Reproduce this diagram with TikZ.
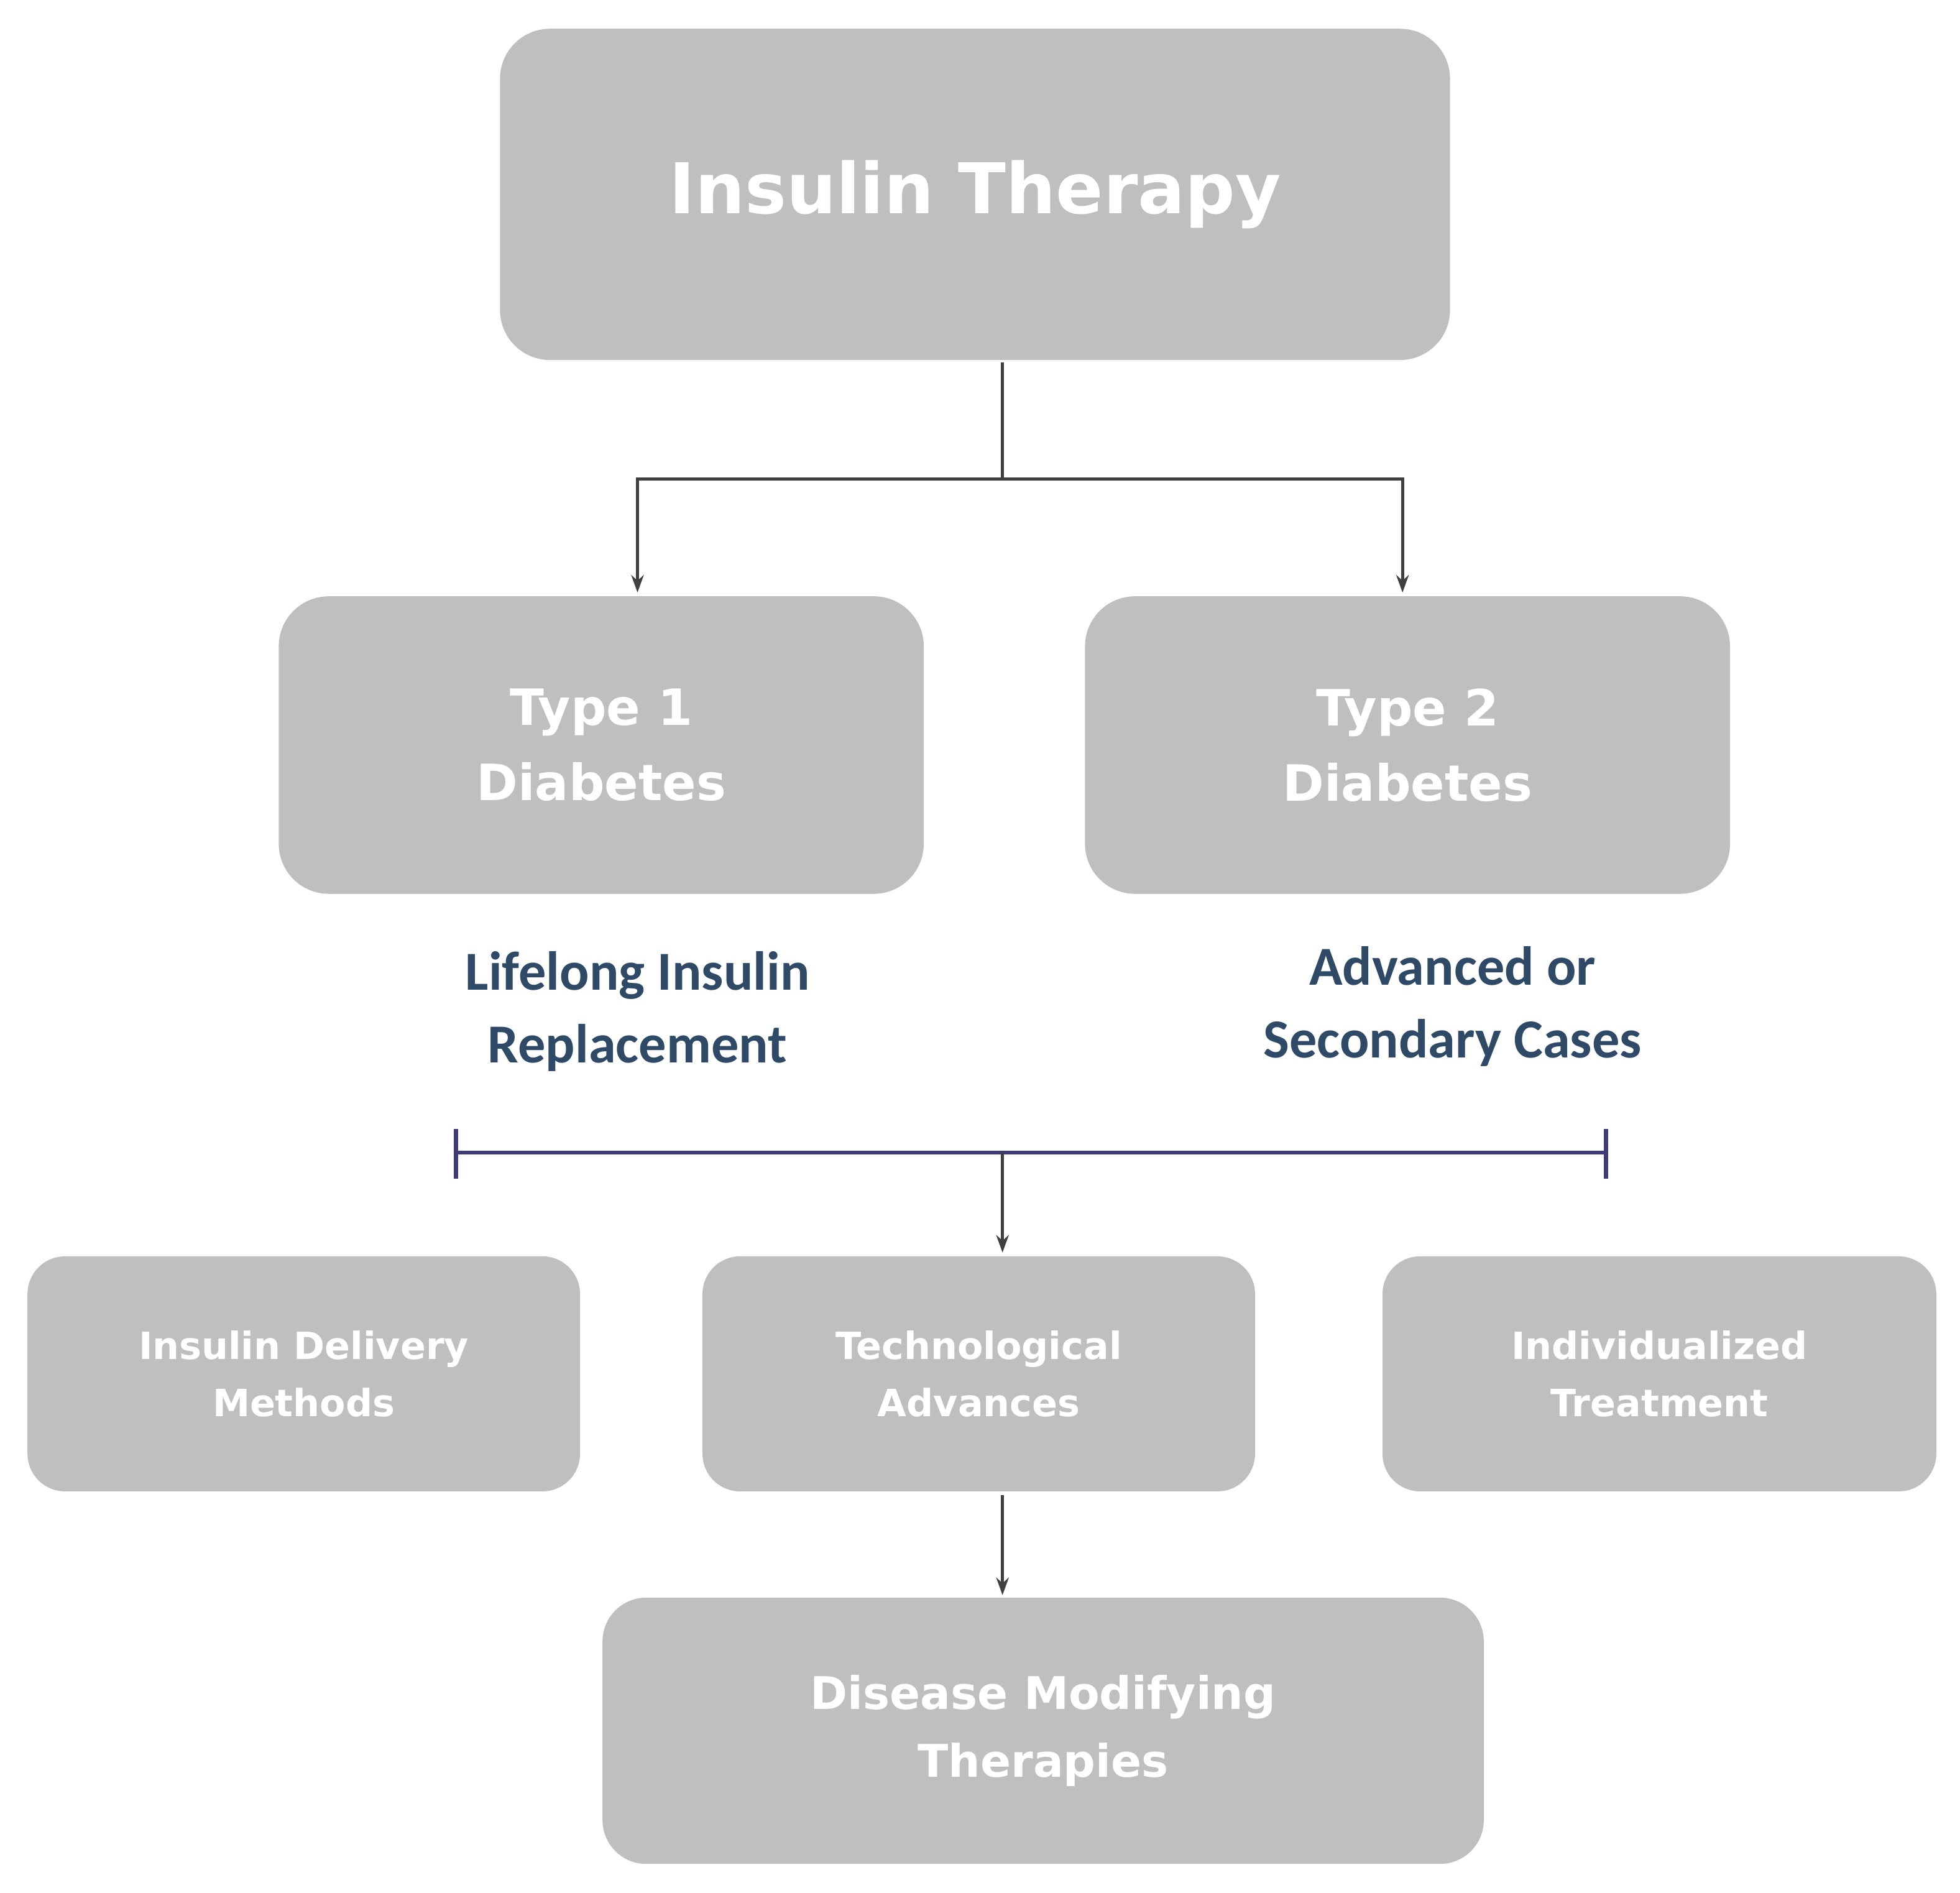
\documentclass[tikz,border=0pt]{standalone}
\usepackage{fontspec}
\setmainfont{DejaVu Sans}
\newfontfamily\lab{Carlito}
\usetikzlibrary{arrows.meta}
\definecolor{boxg}{HTML}{BFBFBF}
\definecolor{arr}{HTML}{404040}
\definecolor{labc}{HTML}{2F4A66}
\definecolor{brk}{HTML}{3E3C78}
\begin{document}
\begin{tikzpicture}[x=1pt,y=-1pt,
 box/.style={draw=none,fill=boxg,rounded corners=40pt,text=white,font=\bfseries,align=center,inner sep=0pt},
 lbl/.style={text=labc,font=\lab\bfseries\fontsize{44}{58}\selectfont,align=center},
 con/.style={draw=arr,line width=2.5pt,-{Stealth[length=14pt,width=10pt]}}]
\useasboundingbox (0,0) rectangle (1568,1514);
\node[box,minimum width=760pt,minimum height=265pt,font=\bfseries\fontsize{56}{60}\selectfont] (it) at (780,155.5) {Insulin Therapy};
\node[box,minimum width=516pt,minimum height=238pt,font=\bfseries\fontsize{40}{60}\selectfont] (t1) at (481,596) {Type 1\\Diabetes};
\node[box,minimum width=516pt,minimum height=238pt,font=\bfseries\fontsize{40}{60}\selectfont] (t2) at (1126,596) {Type 2\\Diabetes};
\node[lbl] (l1) at (510,809) {Lifelong Insulin\\Replacement};
\node[lbl] (l2) at (1162,805) {Advanced or\\Secondary Cases};
\node[box,rounded corners=30pt,minimum width=442pt,minimum height=188pt,font=\bfseries\fontsize{30}{46}\selectfont] (b1) at (243,1099) {Insulin Delivery\\Methods};
\node[box,rounded corners=30pt,minimum width=442pt,minimum height=188pt,font=\bfseries\fontsize{30}{46}\selectfont] (b2) at (783,1099) {Technological\\Advances};
\node[box,rounded corners=30pt,minimum width=443pt,minimum height=188pt,font=\bfseries\fontsize{30}{46}\selectfont] (b3) at (1327.5,1099) {Individualized\\Treatment};
\node[box,rounded corners=35pt,minimum width=705pt,minimum height=213pt,font=\bfseries\fontsize{36}{54}\selectfont] (dm) at (834.5,1384.5) {Disease Modifying\\Therapies};
\coordinate (s) at (802,290);
\coordinate (j) at (802,383);
\coordinate (a1) at (510,474);
\coordinate (a2) at (1122,474);
\draw[draw=arr,line width=2.5pt] (s) -- (j);
\draw[con] (j) -| (a1);
\draw[con] (j) -| (a2);
\coordinate (bl) at (365,922);
\coordinate (br) at (1285,922);
\coordinate (bm) at (802,922);
\draw[brk,line width=3pt] (bl) -- (br);
\draw[brk,line width=3.5pt] (365,903) -- (365,943);
\draw[brk,line width=3.5pt] (1285,903) -- (1285,943);
\draw[con] (bm) -- (802,1002);
\draw[con] (802,1196) -- (802,1276);
\end{tikzpicture}
\end{document}
